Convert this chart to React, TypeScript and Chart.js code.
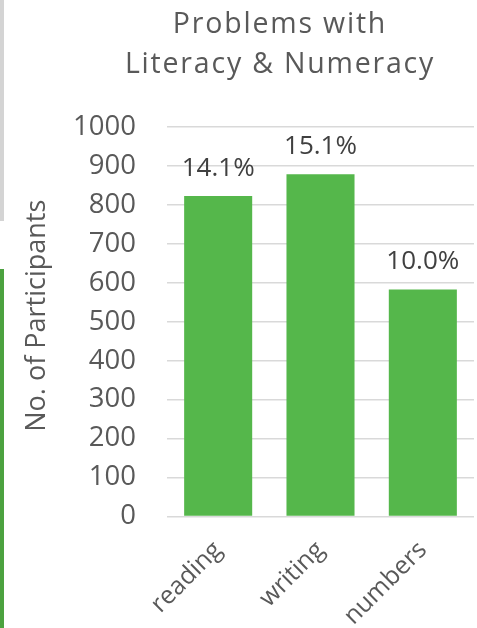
import React, { useEffect, useRef } from "react";
import { Chart, registerables } from "chart.js";

Chart.register(...registerables);

const categories = ["reading", "writing", "numbers"];
const participants = [823, 879, 583];
const percentLabels = ["14.1%", "15.1%", "10.0%"];
const yTicks = [0, 100, 200, 300, 400, 500, 600, 700, 800, 900, 1000];
const titleLines = ["Problems with", "Literacy & Numeracy"];
const yAxisTitle = "No. of Participants";

const FONT = "'Open Sans', 'DejaVu Sans', sans-serif";

const titlePlugin = {
  id: "customTitle",
  afterDraw(chart: any) {
    const ctx = chart.ctx;
    ctx.save();
    ctx.fillStyle = "#595959";
    ctx.font = `28.5px ${FONT}`;
    ctx.textAlign = "center";
    ctx.textBaseline = "alphabetic";
    try { (ctx as any).letterSpacing = "1.8px"; } catch (e) {}
    ctx.fillText(titleLines[0], 280, 33);
    ctx.fillText(titleLines[1], 280, 73);
    try { (ctx as any).letterSpacing = "0px"; } catch (e) {}
    ctx.restore();
  },
};

const axisTitlePlugin = {
  id: "axisTitle",
  afterDraw(chart: any) {
    const ctx = chart.ctx;
    const area = chart.chartArea;
    ctx.save();
    ctx.fillStyle = "#595959";
    ctx.font = `27px ${FONT}`;
    ctx.textAlign = "center";
    ctx.textBaseline = "alphabetic";
    ctx.translate(45, (area.top + area.bottom) / 2 - 6);
    ctx.rotate(-Math.PI / 2);
    ctx.fillText(yAxisTitle, 0, 0);
    ctx.restore();
  },
};

const dataLabelPlugin = {
  id: "dataLabels",
  afterDatasetsDraw(chart: any) {
    const ctx = chart.ctx;
    const meta = chart.getDatasetMeta(0);
    ctx.save();
    ctx.fillStyle = "#404040";
    ctx.font = `26px ${FONT}`;
    ctx.textAlign = "center";
    ctx.textBaseline = "alphabetic";
    meta.data.forEach((bar: any, i: number) => {
      ctx.fillText(percentLabels[i], bar.x, bar.y - 20);
    });
    ctx.restore();
  },
};

export default function App() {
  const ref = useRef<HTMLCanvasElement | null>(null);

  useEffect(() => {
    if (!ref.current) return;
    const chart = new Chart(ref.current, {
      type: "bar",
      data: {
        labels: categories,
        datasets: [
          {
            data: participants,
            backgroundColor: "#55b74b",
            borderWidth: 0,
            categoryPercentage: 1,
            barPercentage: 0.665,
          },
        ],
      },
      options: {
        animation: false,
        responsive: true,
        maintainAspectRatio: false,
        layout: { padding: { top: 127, left: 60, right: 3, bottom: 0 } },
        plugins: {
          legend: { display: false },
          title: { display: false },
          tooltip: { enabled: false },
        },
        scales: {
          x: {
            afterFit(scale: any) {
              scale.height = 111.5;
            },
            grid: { display: false },
            border: { display: false },
            ticks: {
              color: "#595959",
              font: { family: FONT, size: 25 },
              minRotation: 45,
              maxRotation: 45,
              padding: 11,
              autoSkip: false,
            },
          },
          y: {
            min: 0,
            max: 1000,
            afterFit(scale: any) {
              scale.width = 107;
            },
            afterBuildTicks(scale: any) {
              scale.ticks = yTicks.map((v) => ({ value: v }));
            },
            grid: { color: "#d9d9d9", lineWidth: 1.5, drawTicks: false },
            border: { display: false },
            ticks: {
              color: "#595959",
              font: { family: FONT, size: 27.5 },
              padding: 31,
              callback: (v: any) => String(v),
            },
          },
        },
      },
      plugins: [titlePlugin, axisTitlePlugin, dataLabelPlugin],
    });
    return () => chart.destroy();
  }, []);

  return (
    <div style={{ position: "fixed", left: 0, top: 0, width: 477, height: 628, background: "#fff" }}>
      <div style={{ position: "absolute", left: 0, top: 0, width: 4, height: 221, background: "#d4d4d4" }} />
      <div style={{ position: "absolute", left: 0, top: 269, width: 4, height: 359, background: "#4ca23f" }} />
      <canvas ref={ref} style={{ position: "absolute", left: 0, top: 0, width: 477, height: 628 }} />
    </div>
  );
}
